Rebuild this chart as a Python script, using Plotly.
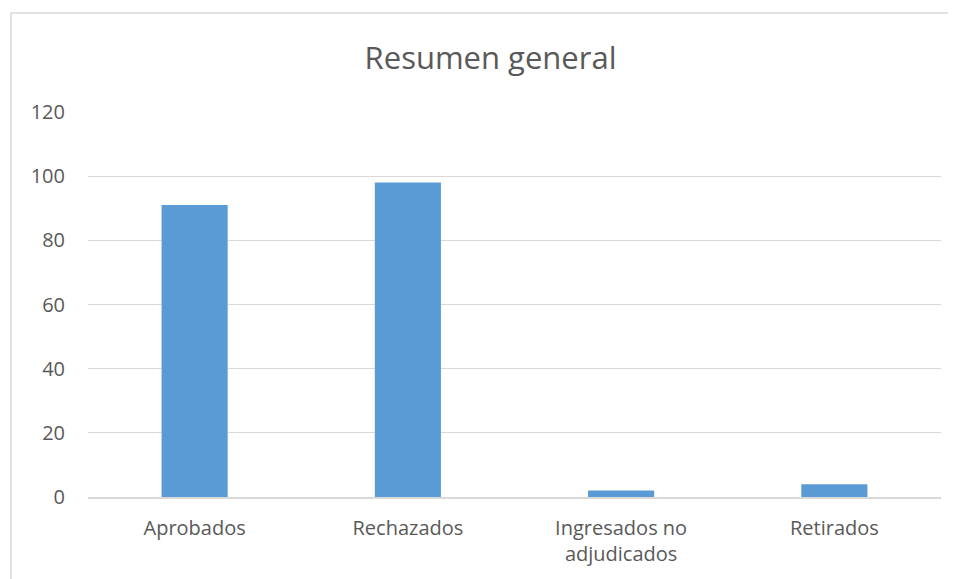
import plotly.graph_objects as go

categories = ["Aprobados", "Rechazados", "Ingresados no<br>adjudicados", "Retirados"]
values = [91, 98, 2, 4]
y_ticks = [0, 20, 40, 60, 80, 100, 120]

fig = go.Figure(go.Bar(x=categories, y=values, marker=dict(color="#5b9bd5", line=dict(width=0))))

# page body has an 8px margin, so the figure is offset by 8px
fig.update_layout(
    width=948, height=571,
    margin=dict(l=80, r=15, t=104, b=82),
    paper_bgcolor="white", plot_bgcolor="white",
    bargap=0.69,
    showlegend=False,
    font=dict(family="Open Sans", color="#595959", size=20),
    title=dict(text="Resumen general", x=0.509, xanchor="center", y=0.912, yanchor="middle",
               font=dict(family="Open Sans", size=31, color="#595959")),
    xaxis=dict(showgrid=False, showline=True, linecolor="#d9d9d9", linewidth=1.5,
               ticks="", tickfont=dict(size=20), ticklabelstandoff=12),
    yaxis=dict(range=[0, 120], tickvals=y_ticks, showgrid=True, gridcolor="#d9d9d9",
               gridwidth=1.2, zeroline=False, showline=False, ticks="",
               ticklabelstandoff=22, tickfont=dict(size=20)),
    shapes=[dict(type="rect", xref="paper", yref="paper", x0=-0.0903, x1=1.2, y0=-0.5, y1=1.257,
                 line=dict(color="#d9d9d9", width=1.5), fillcolor="rgba(0,0,0,0)", layer="below")],
)

fig.write_html("out.html")
